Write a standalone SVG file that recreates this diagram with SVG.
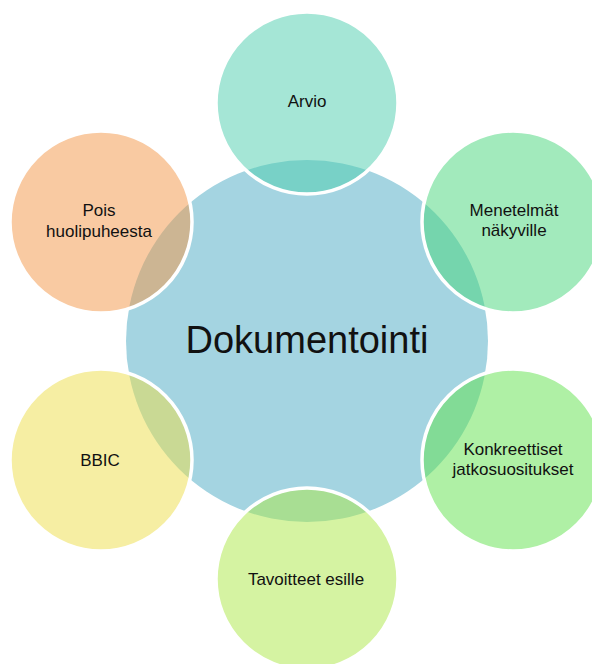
<svg xmlns="http://www.w3.org/2000/svg" width="592" height="664" viewBox="0 0 592 664">
  <style>
    .hub { fill: #A4D4E1; }
    .sat { fill-opacity: 0.5; stroke: #FFFFFF; stroke-width: 3.5; }
    .lbl { font-family: "Liberation Sans", Arial, sans-serif; font-size: 17px; fill: #111111; text-anchor: middle; }
    .hubLbl { font-family: "Liberation Sans", Arial, sans-serif; font-size: 38px; fill: #111111; text-anchor: middle; }
  </style>
  <rect width="592" height="664" fill="#FFFFFF"/>

  <g id="hub-dokumentointi">
    <circle class="hub" cx="307" cy="341" r="181"/>
    <text class="hubLbl" x="307" y="353">Dokumentointi</text>
  </g>

  <g id="connectors"></g>

  <g id="node-arvio">
    <circle class="sat" cx="307" cy="103" r="91" fill="#4BCDAD"/>
    <text class="lbl" x="307" y="107">Arvio</text>
  </g>

  <g id="node-menetelmat">
    <circle class="sat" cx="513" cy="222" r="91" fill="#45D579"/>
    <text class="lbl" x="514" y="216">Menetelmät</text>
    <text class="lbl" x="514" y="236">näkyville</text>
  </g>

  <g id="node-konkreettiset">
    <circle class="sat" cx="513" cy="460" r="91" fill="#5FE14B"/>
    <text class="lbl" x="513" y="455">Konkreettiset</text>
    <text class="lbl" x="513" y="475">jatkosuositukset</text>
  </g>

  <g id="node-tavoitteet">
    <circle class="sat" cx="307" cy="579" r="91" fill="#ABE745"/>
    <text class="lbl" x="306" y="585">Tavoitteet esille</text>
  </g>

  <g id="node-bbic">
    <circle class="sat" cx="101" cy="460" r="91" fill="#EDDD47"/>
    <text class="lbl" x="100" y="466">BBIC</text>
  </g>

  <g id="node-pois">
    <circle class="sat" cx="101" cy="222" r="91" fill="#F39545"/>
    <text class="lbl" x="99" y="216">Pois</text>
    <text class="lbl" x="99" y="237">huolipuheesta</text>
  </g>
</svg>
